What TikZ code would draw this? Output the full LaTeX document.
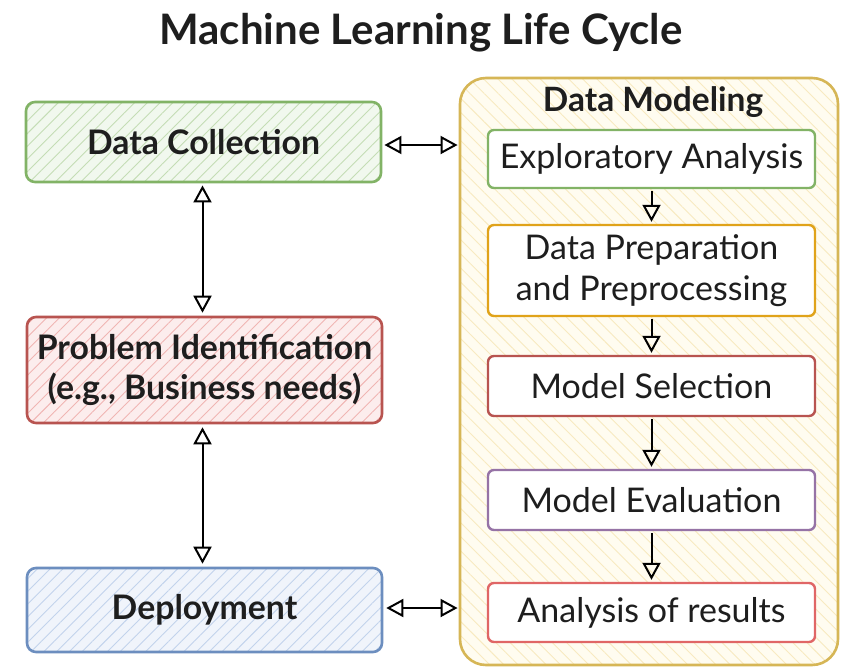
\documentclass[tikz,border=0pt]{standalone}
\usepackage{fontspec}
\setmainfont{Lato}
\usetikzlibrary{arrows.meta,patterns.meta,calc}
\definecolor{grnB}{HTML}{82B366}
\definecolor{grnF}{HTML}{F1F8EE}
\definecolor{grnH}{HTML}{C4DDB5}
\definecolor{redB}{HTML}{B85450}
\definecolor{redF}{HTML}{FCEDED}
\definecolor{redH}{HTML}{F0B5B3}
\definecolor{bluB}{HTML}{6C8EBF}
\definecolor{bluF}{HTML}{F0F4FB}
\definecolor{bluH}{HTML}{C2D3EC}
\definecolor{ylwB}{HTML}{D6B656}
\definecolor{ylwF}{HTML}{FFFCF0}
\definecolor{ylwH}{HTML}{F8EAC0}
\definecolor{orgB}{HTML}{E0A31A}
\definecolor{brtR}{HTML}{E06666}
\definecolor{prpB}{HTML}{9673A6}
\definecolor{txt}{HTML}{1E1E1E}
\tikzset{
  leftbox/.style={draw=#1B, line width=2.6pt, rounded corners=9pt,
    align=center, inner sep=0pt, text=txt,
    font=\fontsize{33.8}{40}\selectfont\bfseries,
    minimum width=355pt},
  hatchNE/.style={preaction={fill=#1F},
    pattern={Lines[angle=45,distance=9pt,line width=0.9pt]}, pattern color=#1H},
  innerbox/.style={draw=#1, line width=2.4pt, rounded corners=6pt, fill=white,
    align=center, inner sep=0pt, minimum width=327pt, text=txt,
    font=\fontsize{34}{41}\selectfont},
  container/.style={draw=ylwB, line width=2.6pt, rounded corners=26pt,
    preaction={fill=ylwF},
    pattern={Lines[angle=-45,distance=10pt,line width=0.9pt]}, pattern color=ylwH},
  tipA/.tip={Triangle[open,length=17pt,width=18pt]},
  biarrow/.style={line width=2pt, black, tipA-tipA},
  onearrow/.style={line width=2pt, black, -tipA}
}
\begin{document}
\begin{tikzpicture}[x=1pt,y=-1pt]
\useasboundingbox[fill=white] (0,0) rectangle (847,670);
% title
\node[font=\fontsize{42}{48}\selectfont\bfseries, text=txt] (title) at (421,33) {Machine Learning Life Cycle};
% left column
\node[leftbox=grn, hatchNE=grn, minimum height=80pt] (dc) at (203.5,142) {Data Collection};
\node[leftbox=red, hatchNE=red, minimum height=106pt] (pi) at (204.5,370) {Problem Identification\\(e.g., Business needs)};
\node[leftbox=blu, hatchNE=blu, minimum height=84pt] (dep) at (204.5,610) {Deployment};
% container
\node[container, minimum width=378pt, minimum height=587pt] (dm) at (649,371.5) {};
\node[font=\fontsize{33.5}{40}\selectfont\bfseries, text=txt] (dmt) at (653,102) {Data Modeling};
% inner boxes
\node[innerbox=grnB, minimum height=58pt] (ea) at (651.5,159) {Exploratory Analysis};
\node[innerbox=orgB, minimum height=91pt] (dp) at (651.5,270.5) {Data Preparation\\and Preprocessing};
\node[innerbox=redB, minimum height=60pt] (ms) at (651.5,386) {Model Selection};
\node[innerbox=prpB, minimum height=60pt] (me) at (651.5,500) {Model Evaluation};
\node[innerbox=brtR, minimum height=59pt] (ar) at (651.5,612.5) {Analysis of results};
% connectors
\draw[biarrow, shorten <=3pt, shorten >=2pt] ($(dc.east)+(0,3)$) -- ($(dc.east -| dm.west)+(0,3)$);
\draw[biarrow, shorten <=3pt, shorten >=2pt] ($(dep.east)+(0,-2)$) -- ($(dep.east -| dm.west)+(0,-2)$);
\draw[biarrow, shorten <=3pt, shorten >=3pt] ($(dc.south)+(-1,0)$) -- ($(pi.north)+(-2,0)$);
\draw[biarrow, shorten <=3pt, shorten >=3pt] ($(pi.south)+(-2,0)$) -- ($(dep.north)+(-2,0)$);
\draw[onearrow, shorten <=2pt, shorten >=2pt] (ea.south) -- (dp.north);
\draw[onearrow, shorten <=2pt, shorten >=2pt] (dp.south) -- (ms.north);
\draw[onearrow, shorten <=2pt, shorten >=2pt] (ms.south) -- (me.north);
\draw[onearrow, shorten <=2pt, shorten >=2pt] (me.south) -- (ar.north);
\end{tikzpicture}
\end{document}
